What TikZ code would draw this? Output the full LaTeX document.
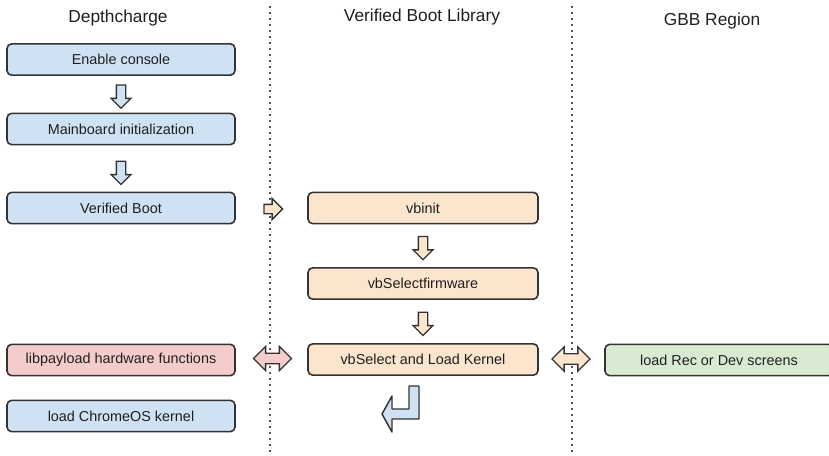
\documentclass[tikz,border=0pt]{standalone}
\usepackage{fontspec}
\setmainfont{Liberation Sans}
\usetikzlibrary{shapes.arrows,calc}

\definecolor{boxblue}{RGB}{207,226,243}
\definecolor{boxorange}{RGB}{252,229,205}
\definecolor{boxred}{RGB}{244,204,204}
\definecolor{boxgreen}{RGB}{217,234,211}
\definecolor{edgegray}{RGB}{51,51,51}
\definecolor{dotgray}{RGB}{85,85,85}

\tikzset{every picture/.style={line width=0.75pt}}
\tikzset{
  stepbox/.style={draw=edgegray, line width=1.2pt, rounded corners=3.5pt,
    minimum width=171pt, minimum height=23.5pt, inner sep=0pt,
    font=\fontsize{10.8}{13}\selectfont, text=black!88},
  colhead/.style={font=\fontsize{13}{15}\selectfont, text=black!88},
  blockarrow/.style={single arrow, draw=edgegray, line width=1pt,
    inner sep=3pt, single arrow head extend=3.9pt, minimum height=17.5pt},
  twoway/.style={double arrow, draw=edgegray, line width=1pt,
    inner sep=3.4pt, double arrow head extend=5.2pt, minimum height=28.5pt},
  lane/.style={dotgray, line width=1.5pt, dash pattern=on 1.5pt off 3pt}
}

\begin{document}
\begin{tikzpicture}[x=0.75pt,y=0.75pt,yscale=-1,xscale=1]
\path[use as bounding box, clip] (0,0) rectangle (829,455);

%Lanes
\draw [lane] (270,6) -- (270,455) ;
\draw [lane] (572,6) -- (572,455) ;

% Text Node
\node [colhead] (hdc) at (118,18) {Depthcharge};
% Text Node
\node [colhead] (hvb) at (422,17) {Verified Boot Library};
% Text Node
\node [colhead] (hgbb) at (712,21) {GBB Region};

%Depthcharge steps
\node [stepbox, fill=boxblue] (enable) at (121,59.5) {Enable console};
\node [stepbox, fill=boxblue] (mainboard) at (121,129) {Mainboard initialization};
\node [stepbox, fill=boxblue] (vboot) at (121,208) {Verified Boot};
\node [stepbox, fill=boxred] (libpay) at (121,360) {libpayload hardware functions};
\node [stepbox, fill=boxblue] (chromeos) at (121,416) {load ChromeOS kernel};

%Verified boot library steps
\node [stepbox, fill=boxorange, minimum width=172.5pt] (vbinit) at (423,208) {vbinit};
\node [stepbox, fill=boxorange, minimum width=172.5pt] (vbfw) at (423,283.5) {vbSelectfirmware};
\node [stepbox, fill=boxorange, minimum width=172.5pt] (vbload) at (423,359.5) {vbSelect and Load Kernel};

%GBB region
\node [stepbox, fill=boxgreen] (gbbscreens) at (719,360) {load Rec or Dev screens};

%Down arrows
\node [blockarrow, fill=boxblue, shape border rotate=270] (dn1) at ($(enable.south)!0.5!(mainboard.north)$) {};
\node [blockarrow, fill=boxblue, shape border rotate=270] (dn2) at ($(mainboard.south)!0.5!(vboot.north)+(0,2)$) {};
\node [blockarrow, fill=boxorange, shape border rotate=270] (dn3) at ($(vbinit.south)!0.5!(vbfw.north)$) {};
\node [blockarrow, fill=boxorange, shape border rotate=270] (dn4) at ($(vbfw.south)!0.5!(vbload.north)$) {};

%Hand over to the library
\node [blockarrow, fill=boxorange, inner sep=3pt, single arrow head extend=4.4pt, minimum height=14pt] (handover) at (271,209) {};

%Two way calls
\node [twoway, fill=boxred] (hwcall) at (272.5,358.5) {};
\node [twoway, fill=boxorange] (gbbcall) at (571,359) {};

%Return to depthcharge
\coordinate (ret) at (419,386);
\draw [draw=edgegray, line width=1.1pt, fill=boxblue, line join=round]
  (ret) -- ++(0,33) -- ++(-27,0) -- ++(0,13) -- ++(-10,-18) -- ++(10,-18)
  -- ++(0,13) -- ++(17,0) -- ++(0,-23) -- cycle ;

\end{tikzpicture}
\end{document}
